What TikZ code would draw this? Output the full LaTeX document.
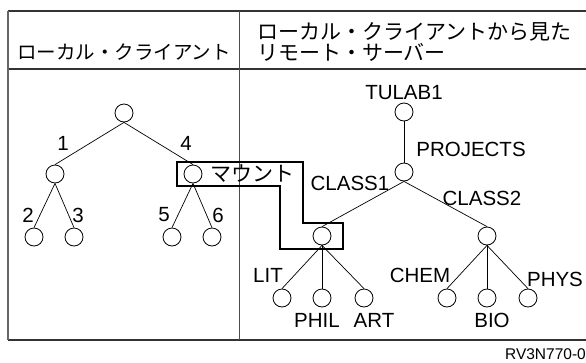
\documentclass[tikz,border=0pt]{standalone}
\usepackage{fontspec}
\setmainfont{Liberation Sans}
\newfontfamily\cjk{Noto Sans CJK JP}
\begin{document}
\begin{tikzpicture}[x=1pt,y=-1pt,
  vtx/.style={circle,draw,line width=0.8pt,minimum size=18pt,inner sep=0pt},
  edge/.style={line width=0.7pt},
  frameline/.style={line width=1.1pt,draw=black!80},
  lbl/.style={inner sep=0pt,font=\fontsize{20.5}{20}\selectfont},
  jp/.style={inner sep=0pt,font=\cjk\fontsize{21}{20}\selectfont},
  mount/.style={line width=2.6pt,line join=miter}]
\useasboundingbox (0,0) rectangle (586,362);
% frame
\draw[frameline] (8,11) -- (586,11);
\draw[frameline] (8,340) -- (586,340);
\draw[frameline] (8,69) -- (586,69);
\draw[frameline,draw=black!60] (8,11) -- (8,340);
\draw[line width=0.9pt,draw=black!70] (239,11) -- (239,340);
% headers
\node[jp,font=\cjk\fontsize{19.5}{20}\selectfont] (h1) at (124,52) {ローカル・クライアント};
\node[jp,anchor=west] (h2a) at (257,32) {ローカル・クライアントから見た};
\node[jp,anchor=west] (h2b) at (257,52) {リモート・サーバー};
% mount box
\draw[mount] (177,162) -- (303,162) -- (303,223) -- (343,223) -- (343,249)
  -- (280,249) -- (280,186) -- (177,186) -- cycle;
\node[jp,anchor=west] (mnt) at (210,174) {マウント};
% left tree
\node[vtx] (r) at (124,113) {};
\node[vtx] (a) at (55,174) {};
\node[vtx] (b) at (193,174) {};
\node[vtx] (a1) at (34,237) {};
\node[vtx] (a2) at (74,237) {};
\node[vtx] (b1) at (172,237) {};
\node[vtx] (b2) at (212,237) {};
\draw[edge] (r.south) -- (a.north);
\draw[edge] (r.south) -- (b.north);
\draw[edge] (a.south) -- (a1.north);
\draw[edge] (a.south) -- (a2.north);
\draw[edge] (b.south) -- (b1.north);
\draw[edge] (b.south) -- (b2.north);
\node[lbl] (l1) at (63,143) {1};
\node[lbl] (l4) at (186,143) {4};
\node[lbl] (l2) at (28,215) {2};
\node[lbl] (l3) at (78,215) {3};
\node[lbl] (l5) at (164,215) {5};
\node[lbl] (l6) at (218,215) {6};
% right tree
\node[vtx] (t) at (404,112) {};
\node[vtx] (p) at (404,172) {};
\node[vtx] (c1) at (322,236) {};
\node[vtx] (c2) at (487,236) {};
\node[vtx] (d1) at (282,298) {};
\node[vtx] (d2) at (322,298) {};
\node[vtx] (d3) at (364,298) {};
\node[vtx] (e1) at (447,298) {};
\node[vtx] (e2) at (487,298) {};
\node[vtx] (e3) at (528,298) {};
\draw[edge] (t.south) -- (p.north);
\draw[edge] (p.south) -- (c1.north);
\draw[edge] (p.south) -- (c2.north);
\draw[edge] (c1.south) -- (d1.north);
\draw[edge] (c1.south) -- (d2.north);
\draw[edge] (c1.south) -- (d3.north);
\draw[edge] (c2.south) -- (e1.north);
\draw[edge] (c2.south) -- (e2.north);
\draw[edge] (c2.south) -- (e3.north);
\node[lbl] (tl) at (404,93) {TULAB1};
\node[lbl] (pl) at (471,149) {PROJECTS};
\node[lbl] (c1l) at (350,183) {CLASS1};
\node[lbl] (c2l) at (482,198) {CLASS2};
\node[lbl] (lit) at (268,275) {LIT};
\node[lbl] (phil) at (317,320) {PHIL};
\node[lbl] (art) at (374,320) {ART};
\node[lbl] (chem) at (420,275) {CHEM};
\node[lbl] (bio) at (492,320) {BIO};
\node[lbl] (phys) at (555,279) {PHYS};
\node[inner sep=0pt,font=\fontsize{15.5}{15}\selectfont,anchor=east] (id) at (586,354) {RV3N770-0};
\end{tikzpicture}
\end{document}
